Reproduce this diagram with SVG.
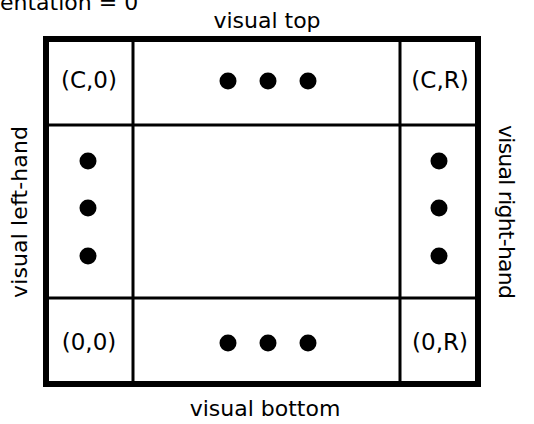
<svg xmlns="http://www.w3.org/2000/svg" width="534" height="424" viewBox="0 0 534 424">
<style>
text{font-family:"DejaVu Sans","Noto Sans CJK JP",sans-serif;font-size:22px;fill:#000}
.cell{text-anchor:middle}
.lbl{text-anchor:middle;font-size:23px}
.line{stroke:#000;stroke-width:3;fill:none}
.dot{fill:#000}
</style>
<rect width="534" height="424" fill="#fff"/>
<text x="0" y="10">entation = 0</text>
<text class="cell" x="267" y="28">visual top</text>
<text class="cell" x="265" y="416">visual bottom</text>
<text class="cell" transform="translate(27,212) rotate(-90)" textLength="172">visual left-hand</text>
<text class="cell" transform="translate(499,212) rotate(90)" textLength="174">visual right-hand</text>
<g id="connectors">
<line class="line" x1="133" y1="36" x2="133" y2="387"/>
<line class="line" x1="400" y1="36" x2="400" y2="387"/>
<line class="line" x1="46" y1="125" x2="478" y2="125"/>
<line class="line" x1="46" y1="298" x2="478" y2="298"/>
<rect x="46" y="39" width="432" height="345" fill="none" stroke="#000" stroke-width="6"/>
</g>
<g id="c0"><text class="lbl" x="89" y="88">(C,0)</text></g>
<g id="cR"><text class="lbl" x="440" y="88">(C,R)</text></g>
<g id="z0"><text class="lbl" x="89" y="350">(0,0)</text></g>
<g id="zR"><text class="lbl" x="440" y="350">(0,R)</text></g>
<g id="topdots"><circle class="dot" cx="228" cy="81" r="8.5"/><circle class="dot" cx="268" cy="81" r="8.5"/><circle class="dot" cx="308" cy="81" r="8.5"/></g>
<g id="botdots"><circle class="dot" cx="228" cy="343" r="8.5"/><circle class="dot" cx="268" cy="343" r="8.5"/><circle class="dot" cx="308" cy="343" r="8.5"/></g>
<g id="leftdots"><circle class="dot" cx="88" cy="161" r="8.5"/><circle class="dot" cx="88" cy="208" r="8.5"/><circle class="dot" cx="88" cy="256" r="8.5"/></g>
<g id="rightdots"><circle class="dot" cx="439" cy="161" r="8.5"/><circle class="dot" cx="439" cy="208" r="8.5"/><circle class="dot" cx="439" cy="256" r="8.5"/></g>
</svg>
